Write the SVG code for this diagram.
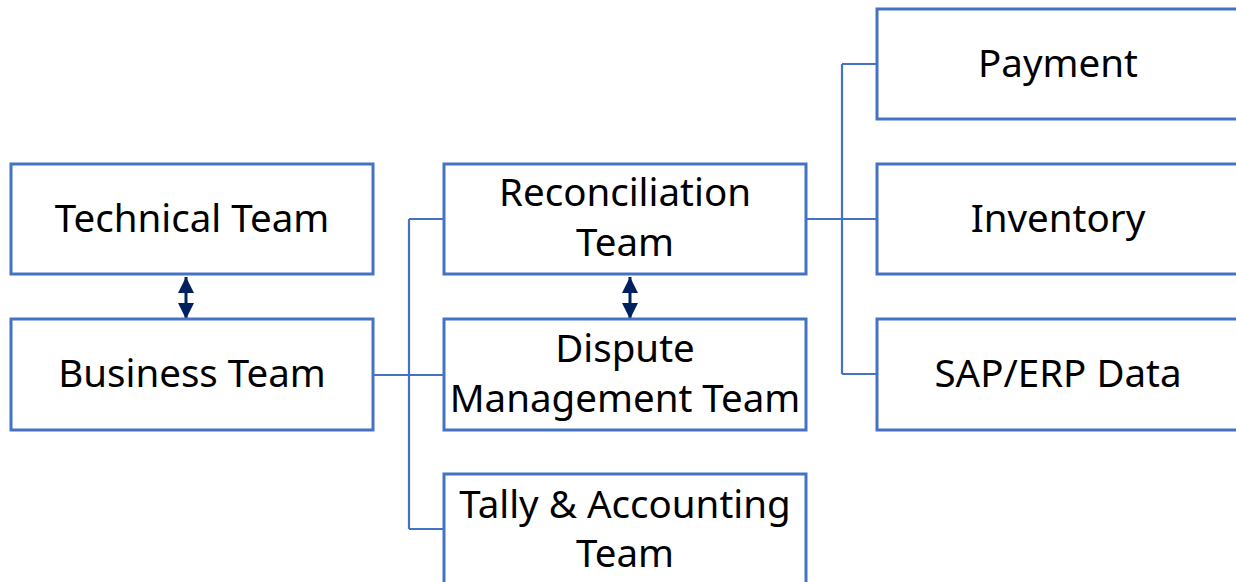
<svg xmlns="http://www.w3.org/2000/svg" width="1236" height="582" viewBox="0 0 1236 582">
<style>
.box{fill:#fff;stroke:#4472C4;stroke-width:3}
.t{font-family:"Noto Sans","Open Sans",sans-serif;font-size:38.5px;fill:#000;text-anchor:middle}
.c{fill:none;stroke:#4472C4;stroke-width:2.2}
.a{stroke:#002060;stroke-width:3;marker-start:url(#ah);marker-end:url(#ah)}
</style>
<defs>
<marker id="ah" viewBox="0 0 10 10" refX="10" refY="5" markerWidth="16" markerHeight="16" markerUnits="userSpaceOnUse" orient="auto-start-reverse">
<path d="M0,0 L10,5 L0,10 z" fill="#002060"/>
</marker>
</defs>
<rect width="1236" height="582" fill="#fff"/>
<g id="connectors">
<path class="c" d="M373,375 H409 M409,219 V529 M409,219 H444 M409,375 H444 M409,529 H444"/>
<path class="c" d="M806,219 H842 M842,64 V374 M842,64 H877 M842,219 H877 M842,374 H877"/>
<line class="a" x1="186" y1="277" x2="186" y2="319"/>
<line class="a" x1="630" y1="277" x2="630" y2="319"/>
</g>
<g id="technical"><rect class="box" x="11" y="164" width="362" height="110"/><text class="t" x="192" y="232">Technical Team</text></g>
<g id="business"><rect class="box" x="11" y="319" width="362" height="111"/><text class="t" x="192" y="387">Business Team</text></g>
<g id="reconciliation"><rect class="box" x="444" y="164" width="362" height="110"/><text class="t" x="625" y="206">Reconciliation</text><text class="t" x="625" y="256">Team</text></g>
<g id="dispute"><rect class="box" x="444" y="319" width="362" height="111"/><text class="t" x="625" y="362">Dispute</text><text class="t" x="625" y="412">Management Team</text></g>
<g id="tally"><rect class="box" x="444" y="474" width="362" height="120"/><text class="t" x="625" y="518">Tally &amp; Accounting</text><text class="t" x="625" y="567">Team</text></g>
<g id="payment"><rect class="box" x="877" y="9" width="370" height="110"/><text class="t" x="1058" y="77">Payment</text></g>
<g id="inventory"><rect class="box" x="877" y="164" width="370" height="110"/><text class="t" x="1058" y="232">Inventory</text></g>
<g id="sap"><rect class="box" x="877" y="319" width="370" height="111"/><text class="t" x="1058" y="387">SAP/ERP Data</text></g>
</svg>
